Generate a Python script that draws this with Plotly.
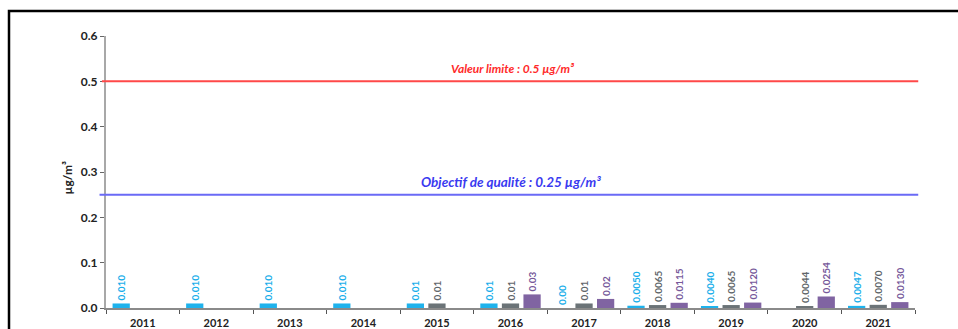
import plotly.graph_objects as go

# Annual means per site (µg/m³)
years = ["2011", "2012", "2013", "2014", "2015", "2016", "2017", "2018", "2019", "2020", "2021"]
site_a = [0.010, 0.010, 0.010, 0.010, 0.01, 0.01, 0.00, 0.0050, 0.0040, None, 0.0047]
site_a_labels = ["0.010", "0.010", "0.010", "0.010", "0.01", "0.01", "0.00", "0.0050", "0.0040", "", "0.0047"]
site_b = [None, None, None, None, 0.01, 0.01, 0.01, 0.0065, 0.0065, 0.0044, 0.0070]
site_b_labels = ["", "", "", "", "0.01", "0.01", "0.01", "0.0065", "0.0065", "0.0044", "0.0070"]
site_c = [None, None, None, None, None, 0.03, 0.02, 0.0115, 0.0120, 0.0254, 0.0130]
site_c_labels = ["", "", "", "", "", "0.03", "0.02", "0.0115", "0.0120", "0.0254", "0.0130"]

limit_value = 0.5
quality_target = 0.25
y_ticks = [0.0, 0.1, 0.2, 0.3, 0.4, 0.5, 0.6]

FONT = "Lato"

series = [
    (site_a, site_a_labels, "#1eb2ec", "#19aeea"),
    (site_b, site_b_labels, "#6b7377", "#5f666a"),
    (site_c, site_c_labels, "#8064a2", "#76589a"),
]

fig = go.Figure()
for vals, labels, bar_col, txt_col in series:
    fig.add_trace(go.Bar(
        x=years, y=vals, text=labels,
        textposition="outside", textangle=-90,
        textfont=dict(family=FONT, size=10, color=txt_col, weight="bold"),
        constraintext="none", cliponaxis=False,
        marker=dict(color=bar_col, line=dict(width=0)),
        showlegend=False,
    ))

# Reference lines
fig.add_shape(type="line", xref="paper", yref="y", x0=-0.005, x1=1.004,
              y0=limit_value, y1=limit_value, line=dict(color="#ff4848", width=2))
fig.add_shape(type="line", xref="paper", yref="y", x0=-0.008, x1=1.004,
              y0=quality_target, y1=quality_target, line=dict(color="#6a6af6", width=2))

# Outer frame
fig.add_shape(type="rect", xref="paper", yref="paper", x0=-0.1199, x1=1.06,
              y0=-0.2, y1=1.0919, line=dict(color="black", width=2.5), layer="above")

fig.add_annotation(xref="paper", yref="y", x=0.503, y=limit_value, yanchor="bottom",
                   yshift=3, showarrow=False, text="Valeur limite : 0.5 µg/m³",
                   font=dict(family=FONT, size=12, color="#ff2a2a", weight="bold", style="italic"))
fig.add_annotation(xref="paper", yref="y", x=0.500, y=quality_target, yanchor="bottom",
                   yshift=3, showarrow=False, text="Objectif de qualité : 0.25 µg/m³",
                   font=dict(family=FONT, size=13.5, color="#3a3af0", weight="bold", style="italic"))

# Y-axis unit
fig.add_annotation(xref="paper", yref="paper", x=-0.0593, y=0.478, textangle=-90,
                   showarrow=False, text="µg/m³",
                   font=dict(family=FONT, size=12, color="#222222", weight="bold"))

fig.update_layout(
    width=958, height=329,
    margin=dict(l=106, r=43, t=36, b=21),
    paper_bgcolor="white", plot_bgcolor="white",
    barmode="group", bargap=0.12, bargroupgap=0.2,
    font=dict(family=FONT),
)
fig.update_xaxes(
    type="category", automargin=False, showgrid=False, showline=True,
    linecolor="#8a8a8a", linewidth=1.5,
    ticks="outside", tickson="boundaries", ticklen=4, tickcolor="#555555",
    ticklabelstandoff=4,
    tickfont=dict(family=FONT, size=11, color="#222222", weight="bold"),
)
fig.update_yaxes(
    range=[0, 0.6], automargin=False, tickvals=y_ticks, tickformat=".1f",
    showgrid=False, zeroline=False,
    showline=True, linecolor="#a8a8a8", linewidth=2,
    ticks="outside", ticklen=4, tickcolor="#666666",
    tickfont=dict(family=FONT, size=12, color="#222222", weight="bold"),
)

fig.write_html("out.html")
